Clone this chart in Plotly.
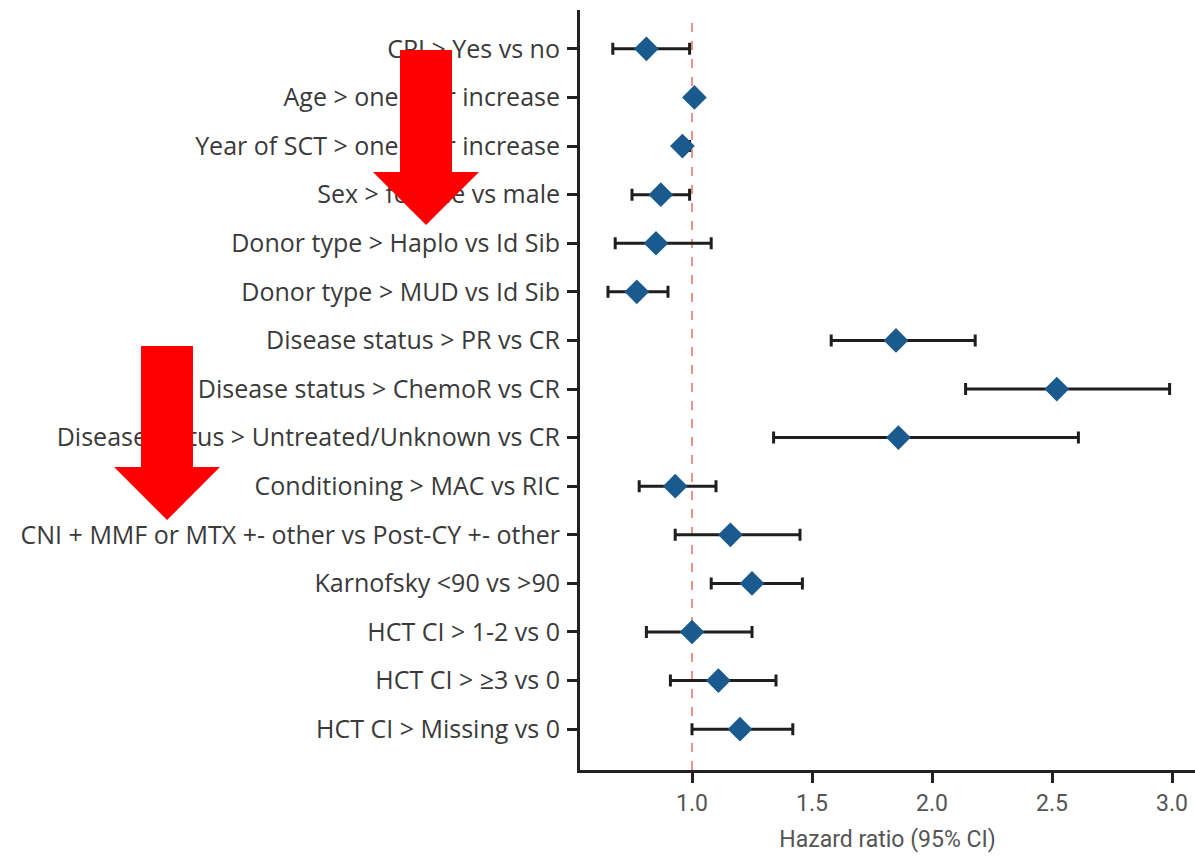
import plotly.graph_objects as go

# Multivariable model: hazard ratios with 95% confidence intervals
labels = [
    "CPI > Yes vs no",
    "Age > one year increase",
    "Year of SCT > one year increase",
    "Sex > female vs male",
    "Donor type > Haplo vs Id Sib",
    "Donor type > MUD vs Id Sib",
    "Disease status > PR vs CR",
    "Disease status > ChemoR vs CR",
    "Disease status > Untreated/Unknown vs CR",
    "Conditioning > MAC vs RIC",
    "CNI + MMF or MTX +- other vs Post-CY +- other",
    "Karnofsky <90 vs >90",
    "HCT CI > 1-2 vs 0",
    "HCT CI > \u22653 vs 0",
    "HCT CI > Missing vs 0",
]
hr = [0.81, 1.01, 0.96, 0.87, 0.85, 0.77, 1.85, 2.52, 1.86, 0.93, 1.16, 1.25, 1.00, 1.11, 1.20]
ci_low = [0.67, 1.00, 0.94, 0.75, 0.68, 0.65, 1.58, 2.14, 1.34, 0.78, 0.93, 1.08, 0.81, 0.91, 1.00]
ci_high = [0.99, 1.02, 0.99, 0.99, 1.08, 0.90, 2.18, 2.99, 2.61, 1.10, 1.45, 1.46, 1.25, 1.35, 1.42]
x_ticks = [1.0, 1.5, 2.0, 2.5, 3.0]
x_tick_text = ["1.0", "1.5", "2.0", "2.5", "3.0"]

W, H = 1195, 857
M_L, M_R, M_T, M_B = 580, 0, 10, 87
PLOT_W = W - M_L - M_R
PLOT_H = H - M_T - M_B

LABEL_FONT = "Open Sans"
AXIS_FONT = "Roboto, sans-serif"


def px(xp, yp):
    """Convert page pixel position to paper coordinates of the plot area."""
    return (xp - M_L) / PLOT_W, (H - M_B - yp) / PLOT_H


def down_arrow(cx, top, base, tip, shaft_half, head_half):
    pts = [
        (cx - shaft_half, top), (cx + shaft_half, top), (cx + shaft_half, base),
        (cx + head_half, base), (cx, tip), (cx - head_half, base),
        (cx - shaft_half, base),
    ]
    conv = [px(a, b) for a, b in pts]
    return "M " + " L ".join(f"{a:.4f},{b:.4f}" for a, b in conv) + " Z"


y_pos = list(range(len(labels)))

fig = go.Figure()
fig.add_trace(go.Scatter(
    x=hr,
    y=y_pos,
    mode="markers",
    marker=dict(symbol="diamond", size=19, color="#1a5a8e",
                line=dict(width=0)),
    error_x=dict(
        type="data", symmetric=False,
        array=[h - m for h, m in zip(ci_high, hr)],
        arrayminus=[m - l for m, l in zip(hr, ci_low)],
        color="#1e1e1e", thickness=3, width=6,
    ),
    showlegend=False,
    hoverinfo="skip",
))

x_left = 1.0 - 112 / 240
x_right = 1.0 + 503 / 240

fig.update_layout(
    width=W, height=H,
    margin=dict(l=M_L, r=M_R, t=M_T, b=M_B, pad=0),
    paper_bgcolor="white", plot_bgcolor="white",
    xaxis=dict(
        range=[x_left, x_right],
        tickvals=x_ticks, ticktext=x_tick_text,
        showgrid=False, zeroline=False,
        showline=True, linecolor="#222", linewidth=3,
        ticks="outside", ticklen=10, tickwidth=3, tickcolor="#222",
        tickfont=dict(family=AXIS_FONT, size=23, color="#555"),
        title=dict(text="Hazard ratio (95% CI)",
                   font=dict(family=AXIS_FONT, size=23, color="#555"),
                   standoff=16),
    ),
    yaxis=dict(
        range=[14.84, -0.8],
        tickvals=y_pos, ticktext=labels,
        showgrid=False, zeroline=False,
        showline=True, linecolor="#222", linewidth=3,
        ticks="outside", ticklen=10, tickwidth=3, tickcolor="#222",
        tickfont=dict(family=LABEL_FONT, size=25, color="#3a3a3a"),
        ticklabelstandoff=2,
    ),
    shapes=[
        dict(type="line", xref="x", yref="paper", x0=1.0, x1=1.0,
             y0=0, y1=px(0, 23)[1],
             line=dict(color="#e07b72", width=1.6, dash="dash"), layer="below"),
        dict(type="path", xref="paper", yref="paper",
             path=down_arrow(426, 50, 172, 225, 26, 53),
             fillcolor="#ff0000", line=dict(width=0), layer="above"),
        dict(type="path", xref="paper", yref="paper",
             path=down_arrow(167, 346, 467, 520, 26, 53),
             fillcolor="#ff0000", line=dict(width=0), layer="above"),
    ],
)

fig.write_html("out.html")
